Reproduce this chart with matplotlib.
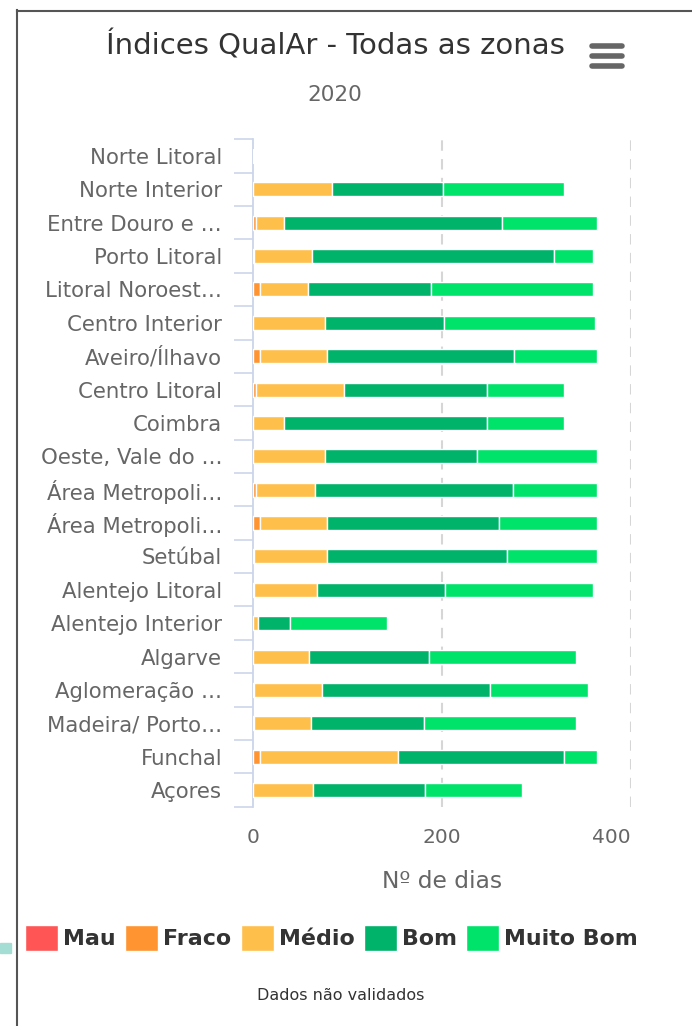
import numpy as np
import matplotlib
matplotlib.use("Agg")
import matplotlib.pyplot as plt
from matplotlib.patches import Patch, Rectangle
from matplotlib.lines import Line2D

plt.rcParams['font.family'] = ['DejaVu Sans']

categories = ["Norte Litoral", "Norte Interior", "Entre Douro e …", "Porto Litoral",
              "Litoral Noroest…", "Centro Interior", "Aveiro/Ílhavo", "Centro Litoral",
              "Coimbra", "Oeste, Vale do …", "Área Metropoli…", "Área Metropoli…",
              "Setúbal", "Alentejo Litoral", "Alentejo Interior", "Algarve",
              "Aglomeração …", "Madeira/ Porto…", "Funchal", "Açores"]

mau       = [0, 0, 0, 0, 0, 0, 0, 0, 0, 0, 0, 0, 0, 0, 0, 0, 0, 0, 0, 0]
fraco     = [0, 0, 4, 1, 8, 0, 8, 4, 0, 0, 4, 8, 1, 1, 0, 0, 1, 1, 8, 0]
medio     = [0, 84, 29, 62, 51, 77, 71, 93, 33, 77, 62, 71, 78, 67, 6, 60, 72, 61, 146, 64]
bom       = [0, 117, 231, 256, 130, 125, 198, 151, 215, 160, 209, 182, 190, 136, 33, 127, 178, 119, 175, 118]
muito_bom = [0, 128, 100, 41, 171, 160, 87, 81, 81, 127, 89, 103, 95, 156, 103, 155, 104, 161, 35, 103]

series_names = ["Mau", "Fraco", "Médio", "Bom", "Muito Bom"]
series_colors = ["#FF5555", "#FF9430", "#FFBF4B", "#00B36B", "#00E36A"]
x_ticks = [0, 200, 400]
title = "Índices QualAr - Todas as zonas"
subtitle = "2020"
x_title = "Nº de dias"
credits = "Dados não validados"

W, H = 692, 1026
fig = plt.figure(figsize=(W / 100, H / 100), dpi=100)
fig.patch.set_facecolor("white")

ax_left, ax_right, ax_top, ax_bot = 252.7, 630.7, 139.3, 806.7
ax = fig.add_axes([ax_left / W, 1 - ax_bot / H, (ax_right - ax_left) / W, (ax_bot - ax_top) / H])

y = np.arange(len(categories))
left = np.zeros(len(categories))
for name, vals, col in zip(series_names, [mau, fraco, medio, bom, muito_bom], series_colors):
    vals = np.array(vals, dtype=float)
    ax.barh(y, vals, left=left, height=0.42, color=col, edgecolor="white", linewidth=1.0, zorder=3)
    left += vals

ax.set_xlim(0, 400)
ax.set_ylim(len(categories) - 0.5, -0.5)

for s in ["top", "right", "bottom"]:
    ax.spines[s].set_visible(False)
ax.spines["left"].set_color("#ccd6eb")
ax.spines["left"].set_linewidth(1.3)

ax.set_yticks(y)
ax.set_yticklabels(categories, fontsize=15.3, color="#666666")
ax.tick_params(axis="y", which="major", length=0, pad=22)
ax.set_yticks(np.arange(len(categories) + 1) - 0.5, minor=True)
ax.tick_params(axis="y", which="minor", length=13.7, color="#ccd6eb", width=1.2)

ax.set_xticks(x_ticks)
ax.set_xticklabels([str(v) for v in x_ticks], fontsize=14.5, color="#666666")
ax.tick_params(axis="x", length=0, pad=15)
ax.get_xticklabels()[-1].set_ha("right")
for v in x_ticks[1:]:
    ax.axvline(v, color="#d6d6d6", linewidth=1.5, linestyle=(0, (5, 4)), zorder=1)

ax.set_xlabel(x_title, fontsize=16.8, color="#666666")
ax.xaxis.set_label_coords(0.5008, (1026 - 881 - (1026 - ax_bot)) / (ax_bot - ax_top))
ax.xaxis.label.set_va("center")

fig.text(335 / W, 1 - 45 / H, title, ha="center", va="center", fontsize=21.0, color="#333333")
fig.text(335 / W, 1 - 95 / H, subtitle, ha="center", va="center", fontsize=15.5, color="#666666")

# hamburger menu
for yy in [46, 56, 66]:
    fig.add_artist(Line2D([592 / W, 622 / W], [1 - yy / H, 1 - yy / H], color="#666666",
                          linewidth=4.0, solid_capstyle="round"))

# frame
fig.add_artist(Line2D([16.5 / W, 16.5 / W], [0, 1 - 10 / H], color="#555555", linewidth=1.5))
fig.add_artist(Line2D([16.5 / W, 1], [1 - 10.5 / H, 1 - 10.5 / H], color="#555555", linewidth=1.5))
fig.add_artist(Rectangle((0, 1 - 953 / H), 11 / W, 10 / H, color="#a3ddd3", transform=fig.transFigure))

handles = [Patch(facecolor=c, edgecolor="white") for c in series_colors]
fig.legend(handles, series_names, loc="center", bbox_to_anchor=(331.5 / W, 1 - 938 / H),
           ncol=5, frameon=False, handlelength=1.5, handleheight=1.4,
           handletextpad=0.22, columnspacing=0.42, borderaxespad=0,
           prop={"weight": "bold", "size": 15.9})
for t in fig.legends[0].get_texts():
    t.set_color("#333333")

fig.text(341 / W, 1 - 995 / H, credits, ha="center", va="center", fontsize=11.5, color="#333333")

fig.savefig("out.png", dpi=100, facecolor="white")
